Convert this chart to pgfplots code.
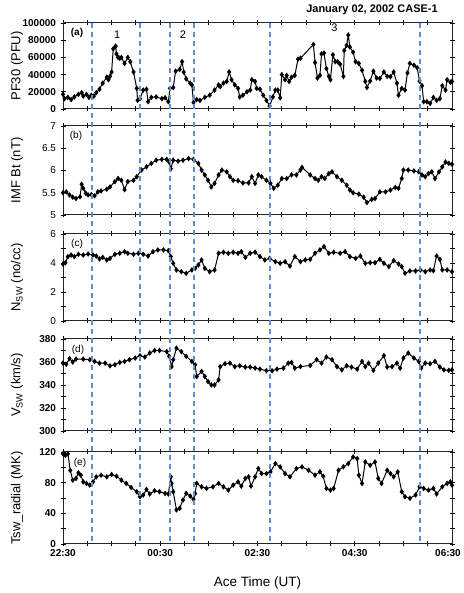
\documentclass[border=0pt]{standalone}
\usepackage{fontspec}
\setmainfont{Liberation Sans}
\usepackage{pgfplots}
\pgfplotsset{compat=1.18}
\definecolor{dblue}{RGB}{95,140,210}
\tikzset{plab/.style={font=\fontsize{10}{10}\selectfont, anchor=center}}
\pgfplotsset{
 dat/.style={black, line width=1pt, mark=diamond*, mark size=2pt, mark options={solid, fill=black, draw=black}},
 panel/.style={
  scale only axis, width=389pt, anchor=south west, clip=false,
  xmin=0, xmax=480, xtick={0,120,240,360,480},
  minor xtick={30,60,90,150,180,210,270,300,330,390,420,450},
  xticklabels={}, tick align=center,
  major tick length=5pt, minor tick length=5pt,
  axis line style={line width=1pt, black!85},
  every major tick/.append style={black, line width=0.9pt},
  every minor tick/.append style={black, line width=0.9pt},
  /pgf/number format/assume math mode=true,
  ticklabel style={font=\fontsize{10}{10}\selectfont\bfseries},
  yticklabel style={xshift=-1pt},
  ylabel style={at={(axis description cs:-0.118,0.5)}, anchor=center, font=\fontsize{13}{13}\selectfont},
 },
}
\begin{document}
\begin{tikzpicture}
\useasboundingbox (0,0) rectangle (463pt,593pt);
% ---------------- (a)
\begin{axis}[panel, at={(63pt,484pt)}, height=86pt,
  ymin=0, ymax=100000, ytick={0,20000,...,100000}, scaled y ticks=false,
  yticklabel style={/pgf/number format/fixed, /pgf/number format/1000 sep={}},
  ylabel={PF30 (PFU)}]
\addplot[dat] table {
0 17000
2 12000
6 13500
10 11000
14 14000
19 17000
23 19000
25 15000
29 17000
32 13500
35 16000
38 15000
41 19000
45 23000
49 30000
54 37000
56 34000
58 38000
60 43000
62 70000
65 73000
66 64000
68 60000
70 59000
72 60000
76 53000
80 60000
83 55000
87 43000
91 24000
92 10000
95 12000
99 22000
103 23000
105 8500
109 13500
115 14000
122 12000
126 13000
130 8500
132 24000
136 25000
139 44000
144 46000
147 55000
149 43000
152 35000
157 30000
159 28000
161 7500
165 11000
169 10000
175 13500
181 16000
187 22000
192 28000
194 26000
198 30000
202 32000
205 43000
208 34000
212 28000
216 24000
218 14000
222 16000
227 20000
231 22000
233 34000
237 32000
239 24000
243 23000
247 16000
251 10000
255 3500
259 14000
262 22000
265 22000
268 13000
270 40000
274 34000
276 39000
279 32000
282 37000
286 39000
290 58000
293 59000
309 75000
311 54000
314 36000
317 39000
319 64000
322 65000
325 47000
328 38000
330 34000
333 63000
336 55000
339 55000
342 52000
346 38000
347 68000
350 74000
352 86000
354 72000
358 66000
361 55000
365 53000
369 45000
373 32000
375 25000
379 32500
383 44000
387 36000
391 35500
396 43000
400 38000
404 37500
408 43000
412 30000
414 16000
418 24000
422 22000
425 42000
428 53000
433 51000
437 48000
440 32500
443 27000
445 8500
449 8500
453 6500
457 13500
461 10000
465 12000
468 27000
472 22000
474 34000
478 31000
480 32000
};
\node[plab, font=\fontsize{10}{10}\selectfont\bfseries] at (rel axis cs:0,1) [xshift=14pt, yshift=-10pt] {(a)};
\node[font=\fontsize{11}{11}\selectfont] at (axis cs:67,86000) {1};
\node[font=\fontsize{11}{11}\selectfont] at (axis cs:148,86000) {2};
\node[font=\fontsize{11}{11}\selectfont] at (axis cs:335,94000) {3};
\coordinate (T1) at (axis cs:36,100000);
\coordinate (T2) at (axis cs:95,100000);
\coordinate (T3) at (axis cs:132,100000);
\coordinate (T4) at (axis cs:162,100000);
\coordinate (T5) at (axis cs:255,100000);
\coordinate (T6) at (axis cs:440,100000);
\end{axis}
% ---------------- (b)
\begin{axis}[panel, at={(63pt,378pt)}, height=89pt,
  ymin=5, ymax=7, ytick={5,5.5,...,7},
  ticklabel style={font=\fontsize{10}{10}\selectfont},
  ylabel={IMF Bt (nT)}]
\addplot[dat] table {
0 5.50
4 5.52
8 5.45
12 5.40
16 5.37
21 5.41
23 5.69
25 5.60
28 5.49
31 5.45
35 5.46
39 5.43
43 5.52
47 5.54
54 5.58
58 5.63
64 5.75
68 5.82
72 5.78
76 5.57
80 5.75
87 5.78
91 5.86
97 6.01
103 6.08
109 6.16
115 6.23
122 6.25
128 6.25
131 6.19
133 6.04
136 6.23
142 6.21
148 6.23
155 6.27
161 6.25
167 6.16
171 6.01
175 5.90
179 5.78
183 5.63
187 5.71
192 5.90
196 6.01
202 5.97
206 5.86
210 5.78
216 5.77
222 5.72
229 5.72
233 5.86
237 5.71
241 5.90
245 5.86
251 5.78
256 5.71
260 5.60
265 5.67
270 5.82
276 5.82
282 5.90
288 5.90
293 6.01
295 6.07
305 5.90
311 5.82
315 5.78
319 5.86
323 5.82
328 5.93
332 5.97
338 5.86
344 5.78
350 5.67
354 5.56
358 5.50
365 5.47
371 5.40
375 5.28
381 5.35
385 5.37
391 5.52
398 5.52
404 5.56
410 5.62
414 5.60
418 5.82
420 6.01
426 6.01
433 5.99
439 5.97
443 5.90
447 5.86
451 5.93
455 5.97
459 5.82
464 5.97
468 6.08
472 6.19
476 6.16
480 6.14
};
\node[plab] at (rel axis cs:0,1) [xshift=13pt, yshift=-10pt] {(b)};
\end{axis}
% ---------------- (c)
\begin{axis}[panel, at={(63pt,272pt)}, height=87pt,
  ymin=0, ymax=6, ytick={0,2,4,6}, minor ytick={1,3,5},
  ticklabel style={font=\fontsize{10}{10}\selectfont},
  ylabel={N\textsubscript{SW} (no/cc)}]
\addplot[dat] table {
0 3.93
3 4.02
6 4.44
10 4.55
14 4.44
19 4.60
25 4.55
31 4.62
37 4.55
41 4.48
45 4.28
49 4.39
54 4.21
58 4.32
64 4.60
70 4.67
76 4.78
80 4.67
87 4.60
93 4.67
99 4.60
105 4.48
111 4.78
117 4.90
124 4.90
130 4.85
133 4.44
136 3.98
140 3.52
146 3.40
152 3.29
159 3.52
163 3.63
167 3.86
171 4.21
175 3.63
181 3.40
187 3.52
192 4.67
198 4.74
204 4.67
210 4.74
216 4.67
220 4.78
225 4.39
231 4.67
237 4.74
243 4.44
249 4.21
255 4.32
262 4.09
268 3.98
274 4.09
280 3.79
286 4.44
293 4.09
299 4.21
305 4.25
311 4.67
317 4.90
322 5.13
328 4.67
334 4.74
342 4.67
348 4.78
354 4.44
361 4.32
367 4.48
373 3.98
379 4.02
385 4.02
391 4.25
396 3.98
402 3.75
408 4.16
414 3.93
418 3.75
422 3.29
428 3.45
435 3.45
441 3.52
447 3.40
453 3.52
457 3.47
461 4.48
465 4.25
468 3.52
474 3.52
480 3.40
};
\node[plab] at (rel axis cs:0,1) [xshift=14pt, yshift=-10pt] {(c)};
\end{axis}
% ---------------- (d)
\begin{axis}[panel, at={(63pt,162pt)}, height=92pt,
  ymin=300, ymax=380, ytick={300,320,...,380}, minor ytick={310,330,...,370},
  ylabel={V\textsubscript{SW} (km/s)}]
\addplot[dat] table {
0 359
4 358
8 363
12 360
16 362.5
25 362.5
33 362
39 360.5
45 359
52 359
58 356.7
64 357.6
70 359.6
76 360.5
82 362
89 363.4
95 365.5
101 364.3
107 367.8
113 370
119 370
128 369
131 364.9
134 356
136 362
140 372
146 369
152 364.9
159 360.5
163 357.6
165 347.4
171 351.8
175 347.4
179 343
183 340
187 340
192 344.5
194 356
200 358.5
206 359
212 356
218 356.7
225 355.6
231 355.6
237 354.7
243 353.8
251 352.4
258 352.4
264 353.8
272 354.7
278 359
282 359.6
286 354.7
293 356
305 357
313 362
319 359
325 364.3
332 362
338 356
344 353.2
350 356.7
356 355.6
363 353.8
369 360.5
373 356
377 359
383 352.7
389 359
396 365.5
400 355.6
406 356
412 359
416 354.7
420 363.4
426 367.8
433 363.4
439 360.5
442 354.7
447 359
453 358.5
459 360.5
465 355.6
470 353.2
476 352.7
480 353.2
};
\node[plab] at (rel axis cs:0,1) [xshift=15pt, yshift=-11pt] {(d)};
\end{axis}
% ---------------- (e)
\begin{axis}[panel, at={(63pt,49pt)}, height=92pt,
  ymin=0, ymax=120, ytick={0,40,80,120}, minor ytick={20,60,100},
  xticklabels={22:30,00:30,02:30,04:30,\hspace*{-8pt}06:30},
  xticklabel style={yshift=1pt},
  xlabel={Ace Time (UT)},
  xlabel style={at={(axis description cs:0.5,0)}, anchor=center, yshift=-39pt, font=\fontsize{13.5}{13.5}\selectfont},
  ylabel={Tsw\_radial (MK)}]
\addplot[dat] table {
0 117.8
3 115.7
6 117.8
9 96
12 83.3
16 85.5
19 92.8
22 89.8
25 81
29 79
33 76.8
37 81
41 87.6
47 89.8
54 87.6
60 90.6
66 88.5
72 83.3
78 79
84 73.8
91 68.2
95 61.7
99 63.9
103 71.2
107 65.2
113 69.5
119 68.2
126 66
130 65.2
133 87.6
134 79
136 68.2
140 44.5
144 46.6
148 57.4
152 66
157 62.6
161 58.3
163 66
165 79
171 74.6
177 72.5
185 74.6
192 79
198 74.6
204 70.3
210 76.8
216 81
220 75.5
225 85.5
229 87.6
232 75.5
237 87.6
241 98.4
245 91.9
251 91.9
256 94.1
262 104.9
268 100.6
274 91.9
280 87.6
288 98.4
295 100.6
303 96.2
311 89.8
317 94.1
321 88.5
325 72.5
330 70.3
334 72.5
340 96.2
346 100.6
352 104.9
358 113.5
363 111.4
365 89.8
369 79
373 107
379 102.7
385 107
389 85.5
393 79
400 96.2
404 91.9
408 87.6
413 94.1
418 68.2
422 61.7
428 59.6
435 63.9
440 74.6
445 72.5
451 70.3
457 72.5
461 65.2
468 74.6
474 79
478 81
480 76.8
};
\node[plab] at (rel axis cs:0,1) [xshift=17pt, yshift=-11pt] {(e)};
\coordinate (B1) at (axis cs:36,0);
\coordinate (B2) at (axis cs:95,0);
\coordinate (B3) at (axis cs:132,0);
\coordinate (B4) at (axis cs:162,0);
\coordinate (B5) at (axis cs:255,0);
\coordinate (B6) at (axis cs:440,0);
\end{axis}
\foreach \i in {1,...,6} {
  \draw[dblue, line width=1.9pt, dash pattern=on 5pt off 4pt] (T\i) -- (B\i);
}
\node[font=\fontsize{11}{11}\selectfont\bfseries] at (372pt,583pt) {January 02, 2002 CASE-1};
\end{tikzpicture}
\end{document}
